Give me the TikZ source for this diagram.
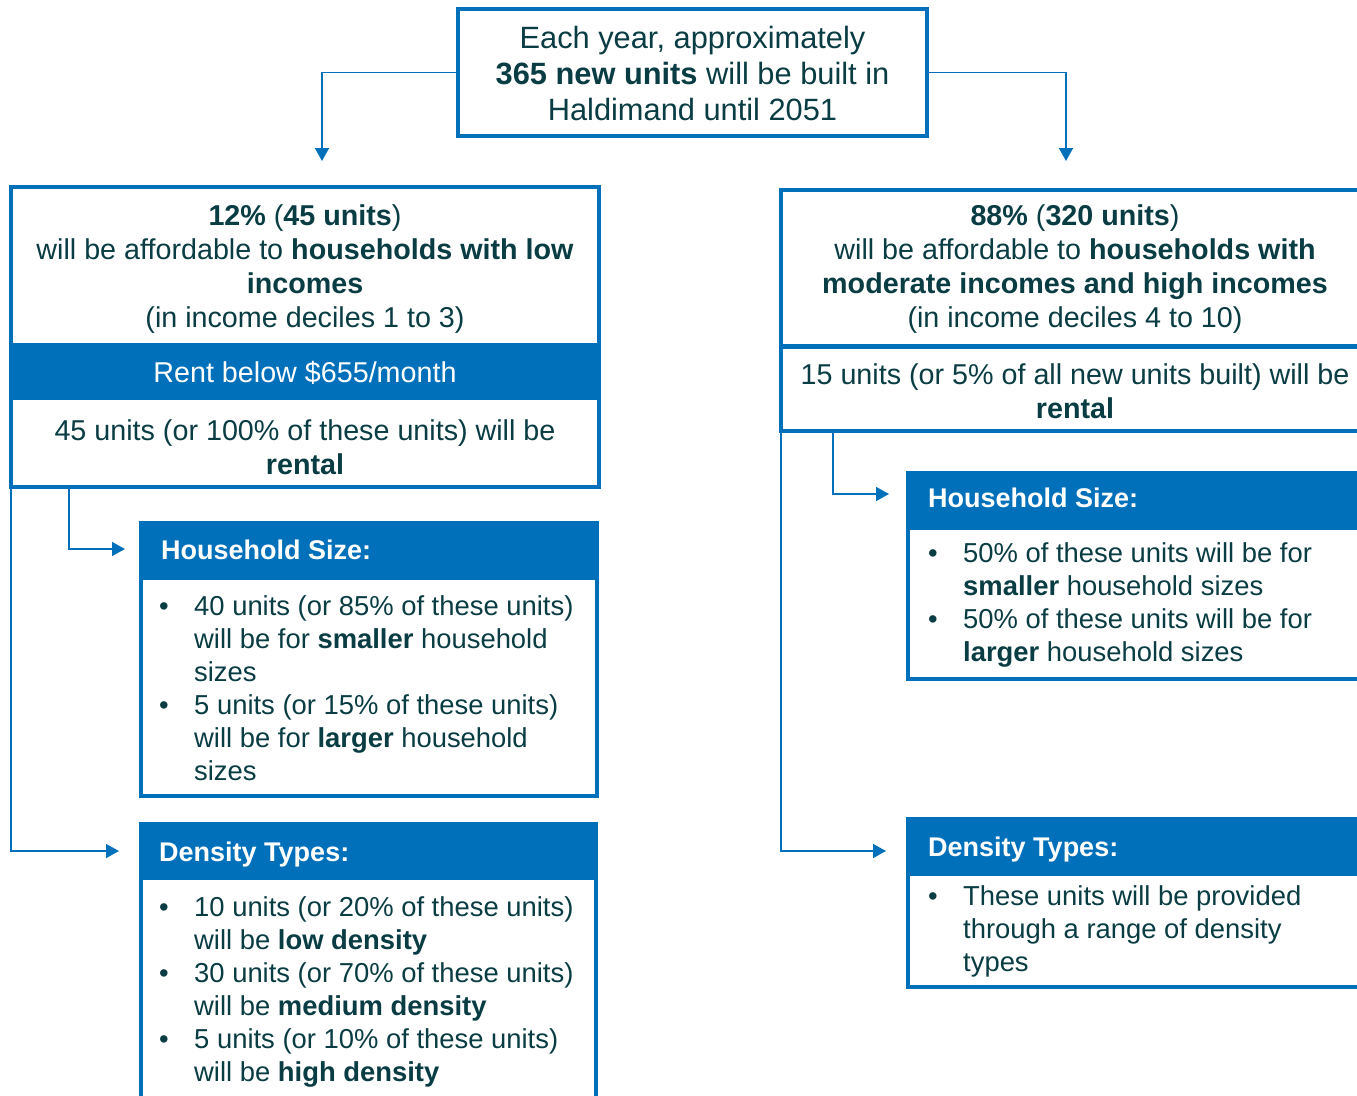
\documentclass[tikz,border=0pt]{standalone}
\usepackage{fontspec}
\setmainfont{Liberation Sans}
\usetikzlibrary{arrows.meta}
\definecolor{hblue}{HTML}{0070BA}
\definecolor{htext}{HTML}{0A3C44}
\begin{document}
\begin{tikzpicture}[x=1pt,y=-1pt,
  frame/.style={draw=hblue, line width=4pt, fill=white, inner sep=0pt, outer sep=0pt, anchor=north west},
  hdr/.style={fill=hblue, draw=none, inner sep=0pt, outer sep=0pt, anchor=north west},
  conn/.style={draw=hblue, line width=1.5pt, -{Triangle[length=13pt,width=14pt]}},
  tbig/.style={text=htext, inner sep=0pt, align=center, font=\fontsize{30.8}{36}\selectfont},
  tsec/.style={text=htext, inner sep=0pt, align=center, font=\fontsize{28.7}{34}\selectfont},
  hd/.style={text=white, inner sep=0pt, anchor=base west, font=\bfseries\fontsize{27}{33}\selectfont},
  bl/.style={text=htext, inner sep=0pt, anchor=base west, font=\fontsize{27.4}{33}\selectfont}
]
\useasboundingbox (0,0) rectangle (1357,1095);
\clip (0,0) rectangle (1357,1095);

% top box
\node[frame, minimum width=469pt, minimum height=127pt] (top) at (458,9) {};
\node[tbig] (toptxt) at (692.5,73) {Each year, approximately\\ \textbf{365 new units} will be built in\\ Haldimand until 2051};

% left main box
\node[frame, line width=3.5pt, minimum width=588pt, minimum height=300pt] (L1) at (11,187) {};
\node[hdr, minimum width=588pt, minimum height=57pt] (L1band) at (11,343) {};
\node[tsec] (L1top) at (305,269) {\textbf{12\%} (\textbf{45 units})\\ will be affordable to \textbf{households with low}\\ \textbf{incomes}\\ (in income deciles 1 to 3)};
\node[tsec, text=white, anchor=base] (L1rent) at (305,382.5) {Rent below \$655/month};
\node[tsec] (L1bot) at (305,447) {45 units (or 100\% of these units) will be\\ \textbf{rental}};

% right main box
\node[frame, minimum width=588pt, minimum height=241pt] (R1) at (781,190) {};
\draw[hblue, line width=5pt] (R1.west |- 0,346) -- (R1.east |- 0,346);
\node[tsec] (R1top) at (1075,269) {\textbf{88\%} (\textbf{320 units})\\ will be affordable to \textbf{households with}\\ \textbf{moderate incomes and high incomes}\\ (in income deciles 4 to 10)};
\node[tsec] (R1bot) at (1075,391) {15 units (or 5\% of all new units built) will be\\ \textbf{rental}};

% left household size
\node[frame, minimum width=456pt, minimum height=273pt] (LHS) at (141,523) {};
\node[hdr, minimum width=460pt, minimum height=59pt] (LHSh) at (139,521) {};
\node[hd] (LHSt) at (161,559) {Household Size:};
\node[bl] (LHSb) at (159,615) {\begin{tabular}[t]{@{}p{35pt}@{}l@{}}
•& 40 units (or 85\% of these units)\\
 & will be for \textbf{smaller} household\\
 & sizes\\
•& 5 units (or 15\% of these units)\\
 & will be for \textbf{larger} household\\
 & sizes\end{tabular}};

% left density types
\node[frame, minimum width=455pt, minimum height=300pt] (LDT) at (141,824) {};
\node[hdr, minimum width=459pt, minimum height=58pt] (LDTh) at (139,822) {};
\node[hd] (LDTt) at (159,861) {Density Types:};
\node[bl] (LDTb) at (159,916) {\begin{tabular}[t]{@{}p{35pt}@{}l@{}}
•& 10 units (or 20\% of these units)\\
 & will be \textbf{low density}\\
•& 30 units (or 70\% of these units)\\
 & will be \textbf{medium density}\\
•& 5 units (or 10\% of these units)\\
 & will be \textbf{high density}\end{tabular}};

% right household size
\node[frame, minimum width=500pt, minimum height=206pt] (RHS) at (908,473) {};
\node[hdr, minimum width=510pt, minimum height=59pt] (RHSh) at (906,471) {};
\node[hd] (RHSt) at (928,507) {Household Size:};
\node[bl] (RHSb) at (928,562) {\begin{tabular}[t]{@{}p{35pt}@{}l@{}}
•& 50\% of these units will be for\\
 & \textbf{smaller} household sizes\\
•& 50\% of these units will be for\\
 & \textbf{larger} household sizes\end{tabular}};

% right density types
\node[frame, minimum width=500pt, minimum height=168pt] (RDT) at (908,819) {};
\node[hdr, minimum width=510pt, minimum height=59pt] (RDTh) at (906,817) {};
\node[hd] (RDTt) at (928,856) {Density Types:};
\node[bl] (RDTb) at (928,905) {\begin{tabular}[t]{@{}p{35pt}@{}l@{}}
•& These units will be provided\\
 & through a range of density\\
 & types\end{tabular}};

% connectors
\coordinate (tL) at (322,161);
\coordinate (tR) at (1066,161);
\draw[conn] (top.west) -| (tL);
\draw[conn] (top.east) -| (tR);
\coordinate (aLHS) at (125,549);
\coordinate (aLDT) at (119,851);
\draw[conn] ([xshift=58pt]L1.south west) |- (aLHS);
\draw[conn] (L1.south west) |- (aLDT);
\coordinate (aRHS) at (889,494);
\coordinate (aRDT) at (886,851);
\draw[conn] ([xshift=52pt]R1.south west) |- (aRHS);
\draw[conn] (R1.south west) |- (aRDT);
\end{tikzpicture}
\end{document}
